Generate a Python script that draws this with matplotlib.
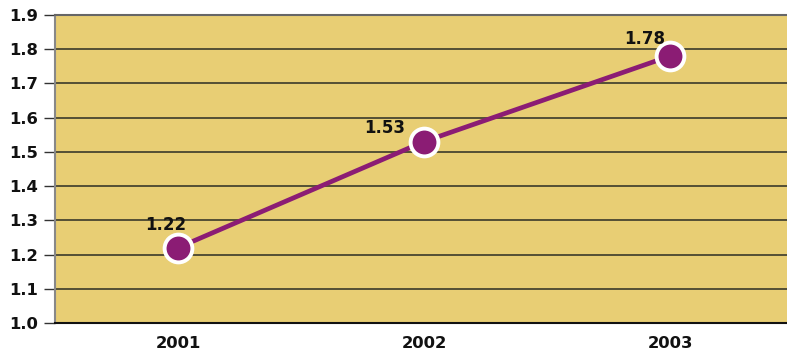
import matplotlib
matplotlib.use("Agg")
import matplotlib.pyplot as plt

years = ["2001", "2002", "2003"]
values = [1.22, 1.53, 1.78]
value_labels = ["1.22", "1.53", "1.78"]
y_ticks = [1.0, 1.1, 1.2, 1.3, 1.4, 1.5, 1.6, 1.7, 1.8, 1.9]

label_offsets = [(-9, 16), (-28, 10), (-18, 12)]  # points

W, H = 787, 350
fig = plt.figure(figsize=(W / 100, H / 100), dpi=100)
left, right, top, bottom = 55, 793, 15, 323
ax = fig.add_axes([left / W, 1 - bottom / H, (right - left) / W, (bottom - top) / H])

bg = "#E8CE74"
purple = "#8B1C74"
ax.set_facecolor(bg)

x = list(range(len(years)))
ax.plot(x, values, color=purple, lw=3.4, zorder=3, solid_capstyle="butt")
ax.plot(x, values, linestyle="none", marker="o", markersize=20,
        markerfacecolor=purple, markeredgecolor="white", markeredgewidth=2.8, zorder=4)

for xi, v, lab, off in zip(x, values, value_labels, label_offsets):
    ax.annotate(lab, (xi, v), xytext=off, textcoords="offset points",
                ha="center", va="center", fontsize=12, fontweight="bold",
                color="#111111", zorder=5)

ax.set_xlim(-0.5, len(years) - 0.5)
ax.set_ylim(1.0, 1.9)
ax.set_yticks(y_ticks)
ax.set_yticklabels([f"{t:.1f}" for t in y_ticks], fontsize=11.8, fontweight="bold", color="#111111")
ax.set_xticks(x)
ax.set_xticklabels(years, fontsize=11.8, fontweight="bold", color="#111111")
ax.tick_params(axis="x", length=0, pad=9)
ax.tick_params(axis="y", length=8, width=1, color="#333333", pad=4)

ax.grid(axis="y", color="#3a3a2a", lw=1.2, zorder=1)
ax.set_axisbelow(True)
ax.spines["right"].set_visible(False)
ax.spines["top"].set_color("#666666")
ax.spines["top"].set_linewidth(1.5)
ax.spines["left"].set_color("#888888")
ax.spines["left"].set_linewidth(1.5)
ax.spines["bottom"].set_color("#111111")
ax.spines["bottom"].set_linewidth(1.5)

fig.savefig("out.png", dpi=100, facecolor="white")
